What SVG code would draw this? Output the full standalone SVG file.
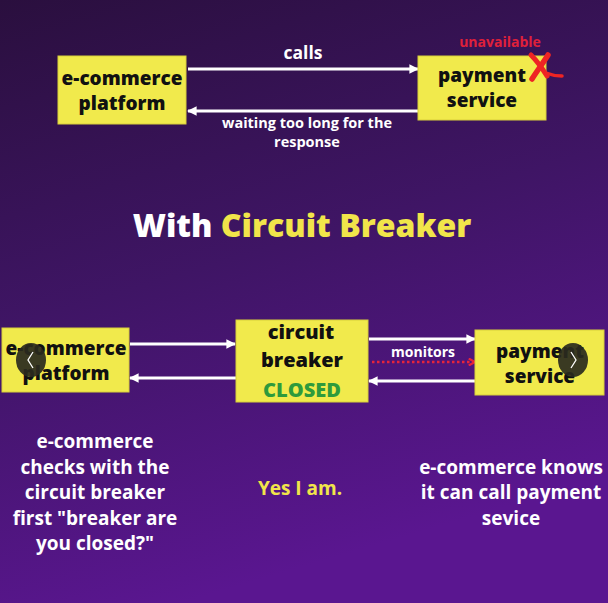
<svg xmlns="http://www.w3.org/2000/svg" width="608" height="603" viewBox="0 0 608 603">
<defs>
<linearGradient id="bg" x1="0" y1="0" x2="0.3" y2="1">
<stop offset="0" stop-color="#2a0f3e"/>
<stop offset="0.5" stop-color="#3f1565"/>
<stop offset="1" stop-color="#5a1690"/>
</linearGradient>
<marker id="ah" viewBox="0 0 10 10" refX="9" refY="5" markerWidth="3.2" markerHeight="3.2" orient="auto-start-reverse" markerUnits="strokeWidth">
<path d="M0,0 L10,5 L0,10 z" fill="#ffffff"/>
</marker>
<marker id="ahr" viewBox="0 0 10 10" refX="7" refY="5" markerWidth="3.5" markerHeight="3.5" orient="auto" markerUnits="strokeWidth">
<path d="M1,1 L8,5 L1,9" fill="none" stroke="#e8243a" stroke-width="2.5"/>
</marker>
</defs>
<style>
text{font-family:"Open Sans","Liberation Sans",sans-serif;font-weight:800;text-anchor:middle}
.box{fill:#f1ea4c;stroke:#d8cf3a;stroke-width:1}
.bt{font-size:19px;fill:#111111}
.lbl{fill:#ffffff;font-size:14.5px;font-weight:700}
.body{fill:#ffffff;font-size:19px;font-weight:700}
.arr{stroke:#ffffff;stroke-width:3;fill:none;marker-end:url(#ah)}
</style>
<rect width="608" height="603" fill="url(#bg)"/>

<g id="connectors">
<line class="arr" x1="188" y1="69" x2="418" y2="69"/>
<line class="arr" x1="418" y1="111" x2="188" y2="111"/>
<line class="arr" x1="130" y1="344" x2="235" y2="344"/>
<line class="arr" x1="236" y1="378" x2="130" y2="378"/>
<line class="arr" x1="369" y1="339" x2="475" y2="339"/>
<line class="arr" x1="475" y1="381" x2="369" y2="381"/>
<line x1="372" y1="362" x2="474" y2="362" stroke="#e8243a" stroke-width="2.5" stroke-dasharray="2.5 2.5" marker-end="url(#ahr)"/>
</g>

<g id="labels">
<text x="303" y="59" fill="#ffffff" style="font-weight:700;font-size:17.5px">calls</text>
<text class="lbl" x="307" y="128">waiting too long for the</text>
<text class="lbl" x="307" y="147">response</text>
<text x="500" y="47" fill="#e0203a" style="font-weight:700;font-size:14px">unavailable</text>
<text class="lbl" x="423" y="357" style="font-size:14px">monitors</text>
</g>

<g id="top-ecommerce">
<rect class="box" x="58" y="56" width="128" height="68"/>
<text class="bt" x="122" y="85">e-commerce</text>
<text class="bt" x="122" y="110">platform</text>
</g>

<g id="top-payment">
<rect class="box" x="418" y="56" width="128" height="64"/>
<text class="bt" x="482" y="82">payment</text>
<text class="bt" x="482" y="107">service</text>
<path d="M531,55 C537,61 542,68 547,76" stroke="#ee2424" stroke-width="5" fill="none" stroke-linecap="round"/>
<path d="M548,55 C543,63 537,71 532,79" stroke="#ee2424" stroke-width="5.5" fill="none" stroke-linecap="round"/>
<path d="M546,73 C551,75 557,76 562,76" stroke="#ee2424" stroke-width="3.5" fill="none" stroke-linecap="round"/>
</g>

<g id="title">
<text x="302" y="237" style="font-size:32px"><tspan fill="#ffffff">With </tspan><tspan fill="#f1e54a">Circuit Breaker</tspan></text>
</g>

<g id="bottom-ecommerce">
<rect class="box" x="2" y="328" width="127" height="64"/>
<text class="bt" x="66" y="355">e-commerce</text>
<text class="bt" x="66" y="380">platform</text>
</g>

<g id="circuit-breaker">
<rect class="box" x="236" y="320" width="132" height="82"/>
<text class="bt" x="301" y="339" style="font-size:20px">circuit</text>
<text class="bt" x="302" y="367" style="font-size:20px">breaker</text>
<text x="302" y="397" fill="#2e9a3c" style="font-size:20px">CLOSED</text>
</g>

<g id="bottom-payment">
<rect class="box" x="475" y="330" width="129" height="65"/>
<text class="bt" x="540" y="358">payment</text>
<text class="bt" x="540" y="383">service</text>
</g>

<g id="carousel">
<ellipse cx="31" cy="360" rx="15" ry="17" fill="#2a2a1e" fill-opacity="0.92"/>
<path d="M33,352 L28,360 L33,368" stroke="#ffffff" stroke-width="1.3" fill="none"/>
<ellipse cx="573" cy="360" rx="15" ry="17" fill="#2a2a1e" fill-opacity="0.92"/>
<path d="M571,352 L576,360 L571,368" stroke="#ffffff" stroke-width="1.3" fill="none"/>
</g>

<g id="notes">
<text class="body" x="95" y="448">e-commerce</text>
<text class="body" x="95" y="474">checks with the</text>
<text class="body" x="95" y="499">circuit breaker</text>
<text class="body" x="95" y="525">first "breaker are</text>
<text class="body" x="95" y="550">you closed?"</text>
<text class="body" x="300" y="495" style="fill:#f1e54a">Yes I am.</text>
<text class="body" x="511" y="474">e-commerce knows</text>
<text class="body" x="511" y="499">it can call payment</text>
<text class="body" x="511" y="525">sevice</text>
</g>
</svg>
